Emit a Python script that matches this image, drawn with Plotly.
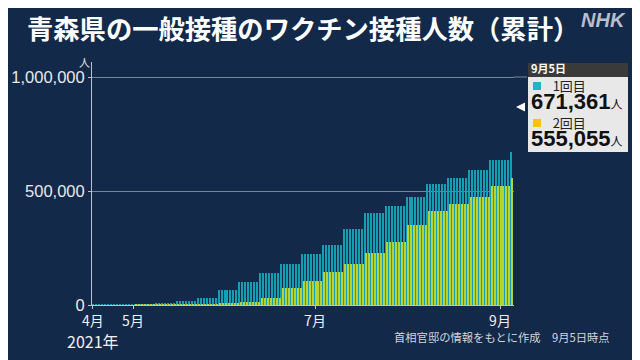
import plotly.graph_objects as go
import pandas as pd

# ---- data (weekly cumulative values, week starting on Sunday) ----
week_starts = ["2021-04-18", "2021-04-25", "2021-05-02", "2021-05-09", "2021-05-16",
               "2021-05-23", "2021-05-30", "2021-06-06", "2021-06-13", "2021-06-20",
               "2021-06-27", "2021-07-04", "2021-07-11", "2021-07-18", "2021-07-25",
               "2021-08-01", "2021-08-08", "2021-08-15", "2021-08-22", "2021-08-29",
               "2021-09-05"]
dose1_weekly = [300, 800, 3000, 6500, 16000, 32000, 66000, 100000, 140000, 180000,
                224000, 263000, 333000, 403000, 434000, 474000, 531000, 557000,
                592000, 636000, 671361]
dose2_weekly = [0, 0, 100, 500, 1500, 4000, 8000, 13000, 31000, 75000,
                105000, 145000, 180000, 228000, 276000, 351000, 412000, 443000,
                474000, 522000, 555055]

x_tickvals = ["2021-04-17 14:00", "2021-05-01", "2021-07-01", "2021-09-01"]
x_ticktext = ["4月", "5月", "7月", "9月"]
y_tickvals = [0, 500000, 1000000]
y_ticktext = ["0", "500,000", "1,000,000"]

latest_label = "9月5日"
series_names = ["1回目", "2回目"]

# daily bars: each day carries the value of its week
start = pd.Timestamp(week_starts[0])
dates = pd.date_range(week_starts[0], week_starts[-1], freq="D")
week_idx = [(d - start).days // 7 for d in dates]
dose1 = [dose1_weekly[i] for i in week_idx]
dose2 = [dose2_weekly[i] for i in week_idx]

# ---- layout geometry (page coordinates; page body has an 8px margin) ----
OFF = 8
W, H = 640 - OFF, 360 - OFF
L, R, T, B = 92, 514, 62, 305
PW, PH = R - L, B - T

def px(x):
    return (x - L) / PW

def py(y):
    return (B - y) / PH

BG = "#13294a"
TEAL = "#159fb2"
YG = "#b6d234"
FONT = "Noto Sans CJK JP"
NUMFONT = "Liberation Sans"

fig = go.Figure()
fig.add_trace(go.Bar(x=dates, y=dose1, name=series_names[0], marker_color=TEAL,
                     marker_line_width=0))
fig.add_trace(go.Bar(x=dates, y=dose2, name=series_names[1], marker_color=YG,
                     marker_line_width=0))

fig.update_layout(
    width=W, height=H,
    margin=dict(l=L - OFF, r=640 - R, t=T - OFF, b=360 - B, pad=0, autoexpand=False),
    paper_bgcolor=BG, plot_bgcolor=BG,
    barmode="group", bargap=0, bargroupgap=0,
    showlegend=False,
    font=dict(family=FONT, color="#e6e6e6"),
)

fig.update_xaxes(
    type="date", automargin=False,
    range=["2021-04-17 06:14", "2021-09-05 16:36"],
    tickvals=x_tickvals, ticktext=x_ticktext,
    tickfont=dict(size=14, color="#f0f0f0", family=FONT),
    showgrid=False, showline=True, linecolor="#b9c2cf", linewidth=1,
    ticks="outside", ticklen=3, tickcolor="#b9c2cf",
    zeroline=False,
)
fig.update_yaxes(
    range=[0, 1065800], automargin=False,
    tickvals=y_tickvals, ticktext=y_ticktext,
    tickfont=dict(size=16.5, color="#e8e8e8", family=NUMFONT),
    showgrid=True, gridcolor="rgba(150,165,188,0.75)", gridwidth=1,
    showline=True, linecolor="#b9c2cf", linewidth=1,
    ticks="outside", ticklen=3, tickcolor="#b9c2cf",
    zeroline=False,
)

shapes = []
# extension of top gridline toward the callout
shapes.append(dict(type="line", xref="paper", yref="y", x0=1, x1=px(527),
                   y0=1000000, y1=1000000, line=dict(color="rgba(150,165,188,0.75)", width=1)))
# callout box
shapes.append(dict(type="rect", xref="paper", yref="paper", x0=px(528), x1=px(628),
                   y0=py(152), y1=py(77), fillcolor="#e8e8e8", line=dict(width=0)))
shapes.append(dict(type="rect", xref="paper", yref="paper", x0=px(528), x1=px(628),
                   y0=py(77), y1=py(63), fillcolor="#3a3a3a", line=dict(width=0)))
# legend squares
shapes.append(dict(type="rect", xref="paper", yref="paper", x0=px(533), x1=px(541),
                   y0=py(90), y1=py(82), fillcolor="#1fb5c8", line=dict(width=0)))
shapes.append(dict(type="rect", xref="paper", yref="paper", x0=px(533), x1=px(541),
                   y0=py(127), y1=py(119), fillcolor="#f5c500", line=dict(width=0)))
# pointer triangle
tri = "M {},{} L {},{} L {},{} Z".format(px(516), py(107), px(525), py(102.5), px(525), py(111.5))
shapes.append(dict(type="path", xref="paper", yref="paper", path=tri,
                   fillcolor="#ffffff", line=dict(width=0)))

ann = []
def add_text(text, x, y, size, color, xanchor="left", yanchor="middle", bold=False,
             family=FONT, **kw):
    ann.append(dict(text=text, xref="paper", yref="paper", x=px(x), y=py(y),
                    xanchor=xanchor, yanchor=yanchor, showarrow=False, borderpad=0,
                    align="left",
                    font=dict(size=size, color=color, family=family,
                              weight="bold" if bold else "normal", **kw)))

add_text("青森県の一般接種のワクチン接種人数（累計）", 303, 28, 26.3, "#ffffff",
         xanchor="center", bold=True)
add_text("NHK", 627, 20, 20, "rgba(215,218,226,0.85)", xanchor="right", bold=True,
         family=NUMFONT, style="italic")
add_text("人", 84, 62, 11, "#e6e6e6", xanchor="center")
add_text("2021年", 93, 341, 16, "#f0f0f0", xanchor="center")
add_text("首相官邸の情報をもとに作成　9月5日時点", 611, 337, 11.3, "#d2d6dc", xanchor="right")

# callout: one text block
SP = "\u2007\u2007\u2007"
def lbl(t):
    return ("<span style='font-size:13px;font-family:\"Noto Sans CJK JP\";color:#222222'>"
            + SP + t + "</span>")
def num(v):
    return ("<span style='font-size:22px'><b>{:,}</b></span>".format(v)
            + "<span style='font-size:12px;font-family:\"Noto Sans CJK JP\"'>人</span>")
head = ("<span style='font-size:11px;font-family:\"Noto Sans CJK JP\";color:#ffffff'>"
        "<b>" + latest_label + "</b></span>")
callout = "<br>".join([head, lbl(series_names[0]), num(dose1_weekly[-1]),
                       lbl(series_names[1]), num(dose2_weekly[-1])])
add_text(callout, 530, 106, 14, "#111111", family=NUMFONT)

fig.update_layout(shapes=shapes, annotations=ann)

fig.write_html("out.html")
